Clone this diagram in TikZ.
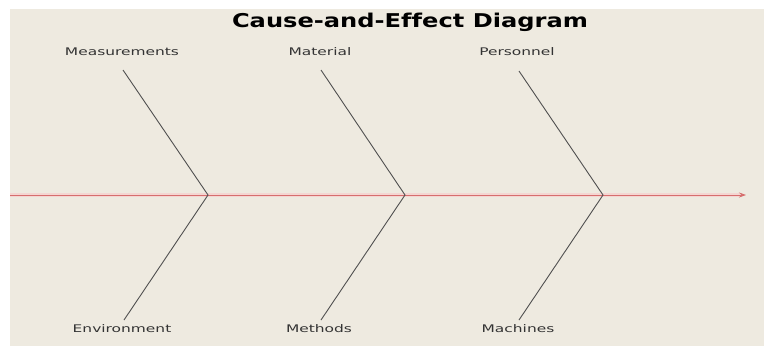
\documentclass[tikz,border=0pt]{standalone}
\usepackage{fontspec}
\setmainfont{DejaVu Sans}[Ligatures=NoCommon]
\usetikzlibrary{arrows.meta}
\definecolor{bgc}{RGB}{238,234,224}
\definecolor{spinec}{RGB}{214,110,110}
\definecolor{glowc}{RGB}{244,214,210}
\definecolor{bonec}{RGB}{80,80,80}
\begin{document}
\begin{tikzpicture}[x=1pt,y=-1pt,
  lbl/.style={font=\fontsize{10.5}{12}\selectfont, text=black!80, inner sep=0pt, anchor=base},
  bone/.style={draw=bonec, line width=0.9pt},
  spine/.style={draw=spinec, line width=0.8pt}]
\useasboundingbox (0,0) rectangle (764,349);
\fill[white] (0,0) rectangle (764,349);
\fill[bgc] (10,9) rectangle (764,346);
% title
\node[inner sep=0pt, anchor=base, font=\bfseries\fontsize{19}{22}\selectfont] (title) at (410,27) {\scalebox{1.27}[1]{Cause-and-Ef\kern0ptfect Diagram}};
% spine
\coordinate (s0) at (10,195);
\coordinate (s1) at (746,195);
\draw[glowc, line width=4pt] (s0) -- (740,195);
\coordinate (j1) at (208,195);
\coordinate (j2) at (405,195);
\coordinate (j3) at (603,195);
\draw[spine, -{Stealth[length=7pt,width=5pt]}] (s0) -- (s1);
% labels
\node[lbl] (meas) at (122,55) {\scalebox{1.47}[1]{Measurements}};
\node[lbl] (mat) at (320,55) {\scalebox{1.47}[1]{Material}};
\node[lbl] (pers) at (517,55) {\scalebox{1.47}[1]{Personnel}};
\node[lbl] (env) at (122,332) {\scalebox{1.47}[1]{Environment}};
\node[lbl] (meth) at (319,332) {\scalebox{1.47}[1]{Methods}};
\node[lbl] (mach) at (518,332) {\scalebox{1.47}[1]{Machines}};
% bone ends
\coordinate (t1) at (123,70);
\coordinate (t2) at (321,70);
\coordinate (t3) at (519,71);
\coordinate (b1) at (124,320);
\coordinate (b2) at (321,320);
\coordinate (b3) at (519,320);
\draw[bone] (t1) -- (j1) -- (b1);
\draw[bone] (t2) -- (j2) -- (b2);
\draw[bone] (t3) -- (j3) -- (b3);
\end{tikzpicture}
\end{document}
